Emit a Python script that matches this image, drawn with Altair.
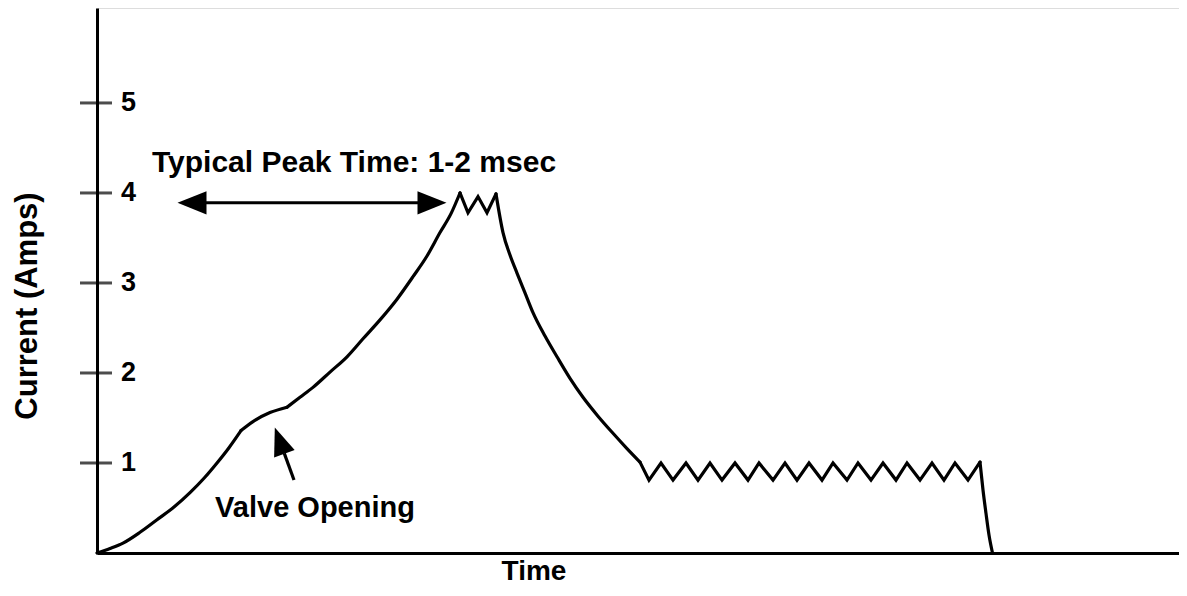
import altair as alt
import pandas as pd

# Current trace (time in arbitrary units, current in amps)
trace_t = [0, 13, 26, 43, 60, 77, 93, 107, 120, 132, 144,
           156, 173, 190,
           203, 216, 233, 250, 266, 283, 300, 316, 330, 343, 354, 363,
           371, 381, 390, 399,
           406, 413, 420, 428, 436, 448, 460, 473, 486, 501, 516, 530, 543,
           552, 564, 576, 589, 601, 613, 625, 638, 651, 662, 676, 688, 700, 712,
           725, 736, 750, 761, 774, 786, 799, 810, 823, 835, 847, 858, 871, 883,
           886, 889, 892, 895.5]
trace_a = [0, 0.05, 0.11, 0.23, 0.37, 0.51, 0.67, 0.83, 1.0, 1.17, 1.36,
           1.46, 1.56, 1.62,
           1.73, 1.84, 2.01, 2.18, 2.38, 2.59, 2.82, 3.07, 3.30, 3.56, 3.77, 4.0,
           3.78, 3.96, 3.78, 3.99,
           3.56, 3.31, 3.11, 2.89, 2.67, 2.41, 2.18, 1.94, 1.73, 1.52, 1.33, 1.16, 1.01,
           0.81, 1.0, 0.81, 1.0, 0.81, 1.0, 0.81, 1.0, 0.81, 1.0, 0.81, 1.0, 0.81, 1.0,
           0.81, 1.0, 0.81, 1.0, 0.81, 1.0, 0.81, 1.0, 0.81, 1.0, 0.81, 1.0, 0.81, 1.01,
           0.70, 0.44, 0.20, 0.0]
# index ranges of each piece of the trace: (start, end inclusive, smooth?)
pieces = [(0, 10, True), (10, 13, True), (13, 25, True), (25, 29, False),
          (29, 42, True), (42, 70, False), (70, 74, True)]

tick_values = [1, 2, 3, 4, 5]
tick_labels = ["1", "2", "3", "4", "5"]

peak_label = "Typical Peak Time: 1-2 msec"
valve_label = "Valve Opening"
x_title = "Time"
y_title = "Current (Amps)"

peak_arrow_t = [95, 335]
peak_arrow_a = 3.89
valve_head = (182.6, 1.248)
valve_shaft = [(187.3, 1.107), (197.0, 0.811)]

FONT = "Liberation Sans"
W, H = 1082, 545
xs = alt.Scale(domain=[0, 1082])
ys = alt.Scale(domain=[0, 6.055])

rows = []
for k, (s, e, smooth) in enumerate(pieces):
    for i in range(s, e + 1):
        rows.append({"t": trace_t[i], "a": trace_a[i], "piece": k, "smooth": smooth, "o": i})
trace = pd.DataFrame(rows)

axis_style = dict(domain=True, domainColor="black", domainWidth=3, ticks=False,
                  labels=False, grid=False, title=None)

def trace_layer(df, interp):
    return alt.Chart(df).mark_line(color="black", strokeWidth=3.2, strokeJoin="miter",
                                   strokeCap="round", interpolate=interp).encode(
        x=alt.X("t:Q", scale=xs, axis=alt.Axis(**axis_style)),
        y=alt.Y("a:Q", scale=ys, axis=alt.Axis(**axis_style)),
        detail="piece:N",
        order="o:Q",
    )

line_smooth = trace_layer(trace[trace.smooth], "monotone")
line_zig = trace_layer(trace[~trace.smooth], "linear")

ticks_df = pd.DataFrame({"v": tick_values, "lab": tick_labels})
ticks = alt.Chart(ticks_df).mark_tick(orient="horizontal", color="black", thickness=3, size=32).encode(
    x=alt.value(-1), y=alt.Y("v:Q", scale=ys))
tick_text = alt.Chart(ticks_df).mark_text(
    font=FONT, fontWeight="bold", fontSize=27, align="left", baseline="middle", color="black"
).encode(x=alt.value(24), y=alt.Y("v:Q", scale=ys), text="lab:N")

shaft_df = pd.DataFrame({"t1": [peak_arrow_t[0]], "t2": [peak_arrow_t[1]], "a": [peak_arrow_a]})
shaft = alt.Chart(shaft_df).mark_rule(color="black", strokeWidth=3).encode(
    x=alt.X("t1:Q", scale=xs), x2="t2:Q", y=alt.Y("a:Q", scale=ys))
heads_df = pd.DataFrame({"t": peak_arrow_t, "a": [peak_arrow_a] * 2, "side": ["L", "R"]})
head_l = alt.Chart(heads_df[heads_df.side == "L"]).mark_point(
    shape="M-1,0L1,-0.8L1,0.8Z", filled=True, color="black", opacity=1, size=841, strokeWidth=0
).encode(x=alt.X("t:Q", scale=xs), y=alt.Y("a:Q", scale=ys))
head_r = alt.Chart(heads_df[heads_df.side == "R"]).mark_point(
    shape="M1,0L-1,-0.8L-1,0.8Z", filled=True, color="black", opacity=1, size=841, strokeWidth=0
).encode(x=alt.X("t:Q", scale=xs), y=alt.Y("a:Q", scale=ys))

vshaft_df = pd.DataFrame({"t1": [valve_shaft[0][0]], "a1": [valve_shaft[0][1]],
                          "t2": [valve_shaft[1][0]], "a2": [valve_shaft[1][1]]})
vshaft = alt.Chart(vshaft_df).mark_rule(color="black", strokeWidth=3.2).encode(
    x=alt.X("t1:Q", scale=xs), x2="t2:Q", y=alt.Y("a1:Q", scale=ys), y2="a2:Q")
vhead_df = pd.DataFrame({"t": [valve_head[0]], "a": [valve_head[1]]})
vhead = alt.Chart(vhead_df).mark_point(
    shape="M0,-1L0.78,1L-0.78,1Z", filled=True, color="black", opacity=1, size=784,
    strokeWidth=0, angle=340
).encode(x=alt.X("t:Q", scale=xs), y=alt.Y("a:Q", scale=ys))

def label(txt, x, y, size, angle=0, baseline="middle"):
    return alt.Chart(pd.DataFrame({"s": [txt]})).mark_text(
        font=FONT, fontWeight="bold", fontSize=size, align="center", baseline=baseline,
        color="black", angle=angle
    ).encode(x=alt.value(x), y=alt.value(y), text="s:N")

texts = (label(peak_label, 257, 155, 30) + label(valve_label, 218, 500, 29) +
         label(x_title, 437, 578, 28, baseline="bottom") +
         label(y_title, -69, 298, 31, angle=270))

chart = alt.layer(line_smooth, line_zig, ticks, tick_text, shaft, head_l, head_r,
                  vshaft, vhead, texts).properties(
    width=W, height=H,
    autosize=alt.AutoSizeParams(type="none"),
    padding={"left": 89, "top": 0, "right": 0, "bottom": 35},
).configure_view(stroke=None).configure(background="white")

chart.save("out.html", embed_options={"renderer": "svg", "actions": False})
